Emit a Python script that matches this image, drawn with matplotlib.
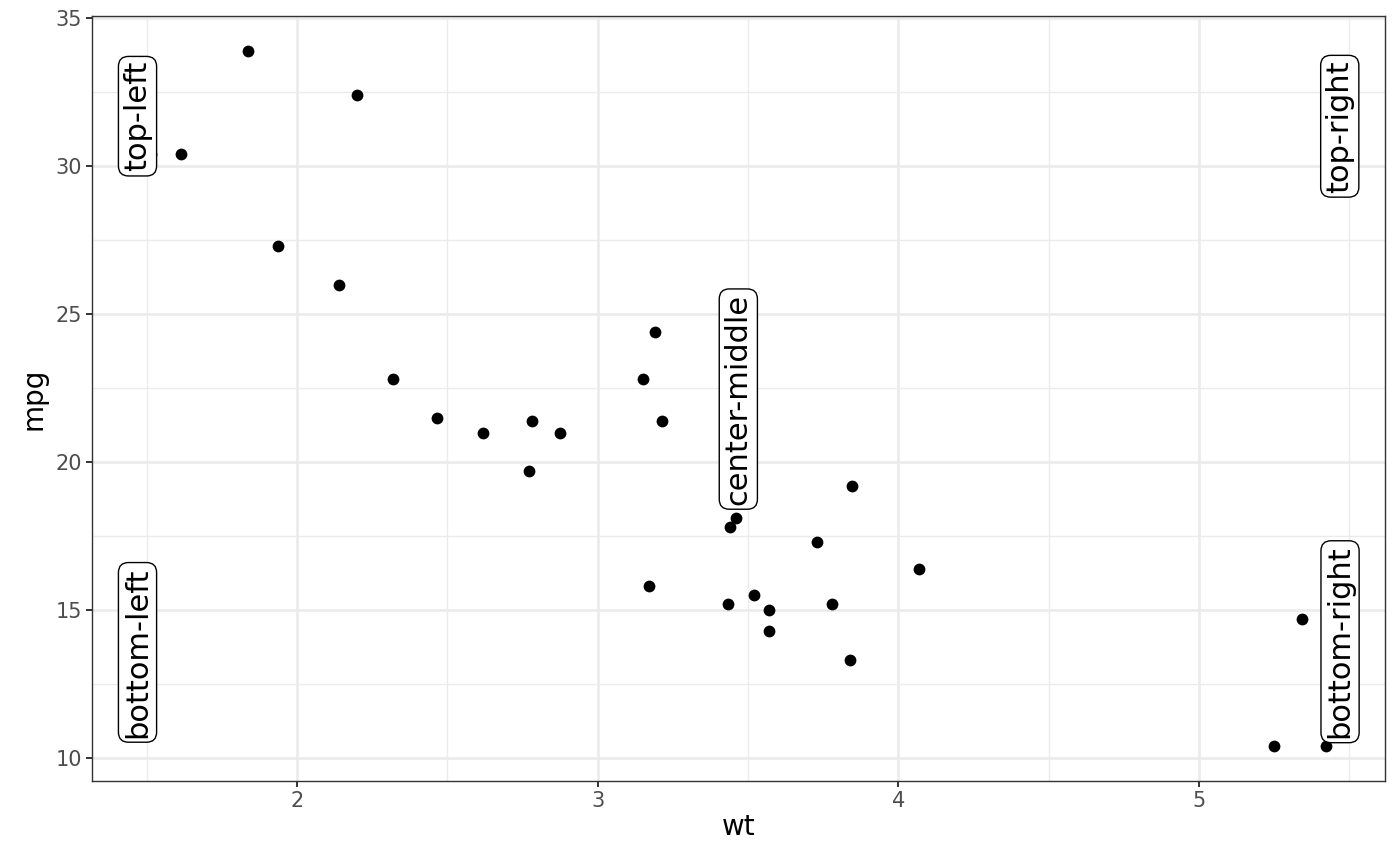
import matplotlib.pyplot as plt
from matplotlib.ticker import MultipleLocator

# mtcars: weight (1000 lbs) and miles per gallon
wt = [2.620, 2.875, 2.320, 3.215, 3.440, 3.460, 3.570, 3.190, 3.150, 3.440,
      3.440, 4.070, 3.730, 3.780, 5.250, 5.424, 5.345, 2.200, 1.615, 1.835,
      2.465, 3.520, 3.435, 3.840, 3.845, 1.935, 2.140, 1.513, 3.170, 2.770,
      3.570, 2.780]
mpg = [21.0, 21.0, 22.8, 21.4, 18.7, 18.1, 14.3, 24.4, 22.8, 19.2,
       17.8, 16.4, 17.3, 15.2, 10.4, 10.4, 14.7, 32.4, 30.4, 33.9,
       21.5, 15.5, 15.2, 13.3, 19.2, 27.3, 26.0, 30.4, 15.8, 19.7,
       15.0, 21.4]

label_text = ['top-left', 'top-right', 'bottom-left', 'bottom-right', 'center-middle']
label_x = [1.469, 5.469, 1.469, 5.470, 3.468]
label_y = [31.69, 31.35, 13.57, 13.93, 22.13]

fig = plt.figure(figsize=(14, 8.66), dpi=100)
ax = fig.add_axes([0.0657, 0.0982, 0.9236, 0.8833])

ax.scatter(wt, mpg, s=72, color='black', zorder=3, linewidths=0)

for t, x, y in zip(label_text, label_x, label_y):
    ax.text(x, y, t, rotation=90, ha='center', va='center', fontsize=22,
            color='black', zorder=4,
            bbox=dict(boxstyle='round,pad=0.15,rounding_size=0.33',
                      facecolor='white', edgecolor='black', linewidth=1.0))

ax.set_xlim(1.3175, 5.6196)
ax.set_ylim(9.225, 35.075)
ax.xaxis.set_major_locator(MultipleLocator(1))
ax.xaxis.set_minor_locator(MultipleLocator(0.5))
ax.yaxis.set_major_locator(MultipleLocator(5))
ax.yaxis.set_minor_locator(MultipleLocator(2.5))

ax.grid(which='major', color='#EBEBEB', linewidth=1.9, zorder=0)
ax.grid(which='minor', color='#EBEBEB', linewidth=0.95, zorder=0)
ax.set_axisbelow(True)

for sp in ax.spines.values():
    sp.set_color('#333333')
    sp.set_linewidth(1.0)

ax.tick_params(which='major', length=4, width=1.4, color='#333333',
               labelcolor='#4D4D4D', labelsize=15, pad=3)
ax.tick_params(which='minor', length=0)

ax.set_xlabel('wt', fontsize=20, labelpad=2)
ax.set_ylabel('mpg', fontsize=20, labelpad=6)

fig.savefig('out.png', dpi=100)
